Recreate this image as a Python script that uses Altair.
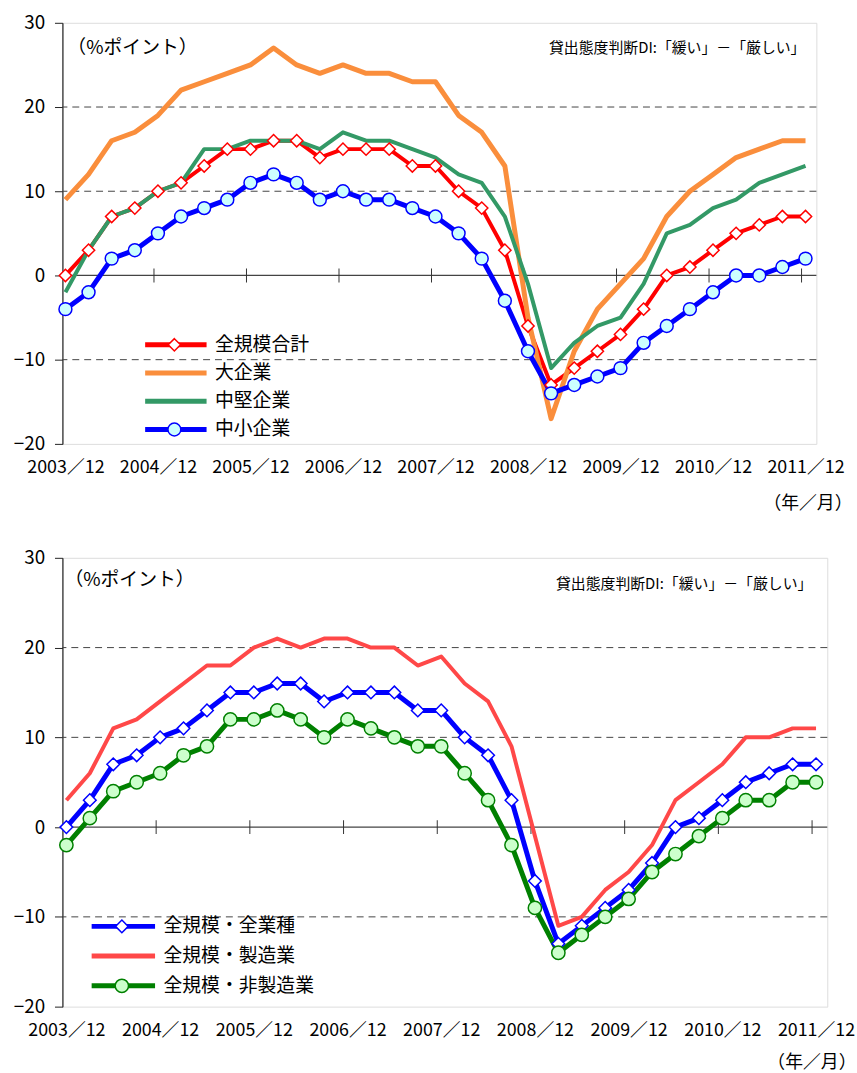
import altair as alt
import pandas as pd

JP = "Noto Sans CJK JP"

# ---------------- data ----------------
quarters = list(range(33))  # 2003/12 ... 2011/12, quarterly
x_labels = ["2003／12", "2004／12", "2005／12", "2006／12", "2007／12",
            "2008／12", "2009／12", "2010／12", "2011／12"]
label_idx = [0, 4, 8, 12, 16, 20, 24, 28, 32]
tick_idx = [4, 8, 12, 16, 20, 24, 28, 32]
y_ticks = [-20, -10, 0, 10, 20, 30]
grid_y = [20, 10, -10]
zero_y = [0]

unit_label = "（%ポイント）"
di_label = "貸出態度判断DI:「緩い」－「厳しい」"
x_title = "（年／月）"

# top panel
top_names = ["全規模合計", "大企業", "中堅企業", "中小企業"]
all_sizes = [0, 3, 7, 8, 10, 11, 13, 15, 15, 16, 16, 14, 15, 15, 15, 13,
             13, 10, 8, 3, -6, -13, -11, -9, -7, -4, 0, 1, 3, 5, 6, 7, 7]
large = [9, 12, 16, 17, 19, 22, 23, 24, 25, 27, 25, 24, 25, 24, 24, 23,
         23, 19, 17, 13, -5, -17, -9, -4, -1, 2, 7, 10, 12, 14, 15, 16, 16]
medium = [-2, 3, 7, 8, 10, 11, 15, 15, 16, 16, 16, 15, 17, 16, 16, 15,
          14, 12, 11, 7, -1, -11, -8, -6, -5, -1, 5, 6, 8, 9, 11, 12, 13]
small = [-4, -2, 2, 3, 5, 7, 8, 9, 11, 12, 11, 9, 10, 9, 9, 8,
         7, 5, 2, -3, -9, -14, -13, -12, -11, -8, -6, -4, -2, 0, 0, 1, 2]
top_values = [all_sizes, large, medium, small]

# bottom panel
bot_names = ["全規模・全業種", "全規模・製造業", "全規模・非製造業"]
all_industries = [0, 3, 7, 8, 10, 11, 13, 15, 15, 16, 16, 14, 15, 15, 15, 13,
                  13, 10, 8, 3, -6, -13, -11, -9, -7, -4, 0, 1, 3, 5, 6, 7, 7]
manufacturing = [3, 6, 11, 12, 14, 16, 18, 18, 20, 21, 20, 21, 21, 20, 20, 18,
                 19, 16, 14, 9, -1, -11, -10, -7, -5, -2, 3, 5, 7, 10, 10, 11, 11]
non_manufacturing = [-2, 1, 4, 5, 6, 8, 9, 12, 12, 13, 12, 10, 12, 11, 10, 9,
                     9, 6, 3, -2, -9, -14, -12, -10, -8, -5, -3, -1, 1, 3, 3, 5, 5]
bot_values = [all_industries, manufacturing, non_manufacturing]

# ---------------- styles ----------------
top_colors = ["#FF0000", "#FA8E3C", "#339966", "#0000FF"]
top_widths = [4, 5, 4, 5]
top_markers = ["diamond", None, None, "circle"]
top_fills = ["#FFFFFF", "transparent", "transparent", "#CCFFFF"]

bot_colors = ["#0000FF", "#FF4848", "#008000"]
bot_widths = [5, 4, 5]
bot_markers = ["diamond", None, "circle"]
bot_fills = ["#FFFFFF", "transparent", "#CCFFCC"]

DIAMOND = "M0,-0.2L0.2,0L0,0.2L-0.2,0Z"
CIRCLE = "M0.21,0A0.21,0.21,0,1,1,-0.21,0A0.21,0.21,0,1,1,0.21,0Z"
NOSHAPE = "M0,0"
LINE = "M-1,0H1"

label_expr = "[" + ",".join("'%s'" % s for s in x_labels) + "][datum.value / 4]"


def panel(names, values, colors, widths, markers, fills, W, H, x_dom,
          leg_x, leg_y, row_pad, sym_size, min_ext, title_x, title_y,
          ann_l, ann_r):
    rows, prow = [], []
    for i, name in enumerate(names):
        for q, v in zip(quarters, values[i]):
            rows.append({"q": q, "v": v, "s": name, "w": widths[i]})
            if markers[i]:
                prow.append({"q": q, "v": v, "m": name + " "})
    df = pd.DataFrame(rows)
    dfp = pd.DataFrame(prow)

    xscale = alt.Scale(domain=x_dom, nice=False, zero=False)
    yscale = alt.Scale(domain=[-20, 30], nice=False, zero=False)
    xaxis = alt.Axis(values=label_idx, labelExpr=label_expr, ticks=False,
                     domain=False, grid=False, labelFont=JP, labelFontSize=18,
                     labelColor="#000", labelPadding=15, labelOverlap=False,
                     labelBound=False, labelFlush=False,
                     title=x_title, titleFont=JP, titleFontSize=18,
                     titleFontWeight="normal", titleColor="#000",
                     titleX=title_x, titleY=title_y, titleAlign="right",
                     titleBaseline="middle", titleAngle=0)
    yaxis = alt.Axis(values=y_ticks, grid=False, domainColor="#222",
                     domainWidth=1.2, tickColor="#222", tickSize=8,
                     labelFont=JP, labelFontSize=19, labelColor="#000",
                     labelPadding=10, title=None, minExtent=min_ext)

    X = lambda f: alt.X(f, scale=xscale, axis=xaxis)
    Y = lambda f: alt.Y(f, scale=yscale, axis=yaxis)

    grid = alt.Chart(pd.DataFrame({"g": grid_y})).mark_rule(
        color="#444", strokeWidth=1, strokeDash=[7, 5]).encode(y=Y("g:Q"))
    zero = alt.Chart(pd.DataFrame({"z": zero_y})).mark_rule(
        color="#444", strokeWidth=1.3).encode(y=Y("z:Q"))
    ticks = alt.Chart(pd.DataFrame({"q": tick_idx, "v": [0] * len(tick_idx)})).mark_tick(
        orient="vertical", size=14, thickness=1, color="#333", opacity=1,
        xOffset=-4).encode(x=X("q:Q"), y=Y("v:Q"))

    legA = alt.Legend(orient="none", legendX=leg_x, legendY=leg_y, title=None,
                      symbolType=LINE, symbolSize=sym_size, symbolStrokeWidth=5,
                      clipHeight=20, rowPadding=row_pad, padding=0,
                      labelFont=JP, labelFontSize=19, labelColor="#000",
                      labelOffset=6, symbolOffset=0, labelLimit=300)
    legB = alt.Legend(orient="none", legendX=leg_x, legendY=leg_y, title=None,
                      symbolSize=sym_size, symbolStrokeWidth=1.5,
                      clipHeight=20, rowPadding=row_pad, padding=0,
                      labelFont=JP, labelFontSize=19, labelExpr="''",
                      labelOffset=6, symbolOffset=0)

    lines = alt.Chart(df).mark_line(strokeJoin="round").encode(
        x=X("q:Q"), y=Y("v:Q"),
        stroke=alt.Stroke("s:N", scale=alt.Scale(domain=names, range=colors),
                          legend=legA),
        strokeWidth=alt.StrokeWidth("w:Q", scale=None, legend=None),
        order=alt.Order("q:Q"))

    mdom = [n + " " for n in names]
    shapes = [DIAMOND if m == "diamond" else CIRCLE if m == "circle" else NOSHAPE
              for m in markers]
    mcolors = [c if m else "transparent" for c, m in zip(colors, markers)]
    points = alt.Chart(dfp).mark_point(filled=False, opacity=1, strokeWidth=1.5,
                                       size=sym_size).encode(
        x=X("q:Q"), y=Y("v:Q"),
        shape=alt.Shape("m:N", scale=alt.Scale(domain=mdom, range=shapes), legend=legB),
        color=alt.Color("m:N", scale=alt.Scale(domain=mdom, range=mcolors), legend=legB),
        fill=alt.Fill("m:N", scale=alt.Scale(domain=mdom, range=fills), legend=legB))

    t_left = alt.Chart(pd.DataFrame({"t": [unit_label]})).mark_text(
        align="left", baseline="middle", font=JP, fontSize=19, color="#000").encode(
        text="t:N", x=alt.value(ann_l[0]), y=alt.value(ann_l[1]))
    t_right = alt.Chart(pd.DataFrame({"t": [di_label]})).mark_text(
        align="right", baseline="middle", font=JP, fontSize=15, color="#000").encode(
        text="t:N", x=alt.value(ann_r[0]), y=alt.value(ann_r[1]))

    return alt.layer(grid, zero, ticks, lines, points, t_left, t_right).properties(
        width=W, height=H).resolve_legend(stroke="independent", shape="independent",
                                           color="independent", fill="independent")


top = panel(top_names, top_values, top_colors, top_widths, top_markers, top_fills,
            W=761, H=425, x_dom=[-0.13, 32.47], leg_x=81, leg_y=315, row_pad=8.5,
            sym_size=3844, min_ext=58, title_x=797, title_y=60,
            ann_l=(5, 25), ann_r=(750, 25))
bottom = panel(bot_names, bot_values, bot_colors, bot_widths, bot_markers, bot_fills,
               W=772, H=453, x_dom=[-0.17, 32.48], leg_x=27, leg_y=362, row_pad=10,
               sym_size=4096, min_ext=52, title_x=801, title_y=56,
               ann_l=(2, 22), ann_r=(757, 26))

chart = alt.vconcat(top, bottom, spacing=35).resolve_scale(
    stroke="independent", color="independent", fill="independent",
    shape="independent", x="independent", y="independent"
).resolve_legend(
    stroke="independent", color="independent", fill="independent", shape="independent"
).properties(
    padding={"left": 4, "top": 8, "right": 0, "bottom": 0}
).configure_view(stroke="#888", strokeWidth=1).configure(background="white")

chart.save("out.html", embed_options={"renderer": "svg", "actions": False})
